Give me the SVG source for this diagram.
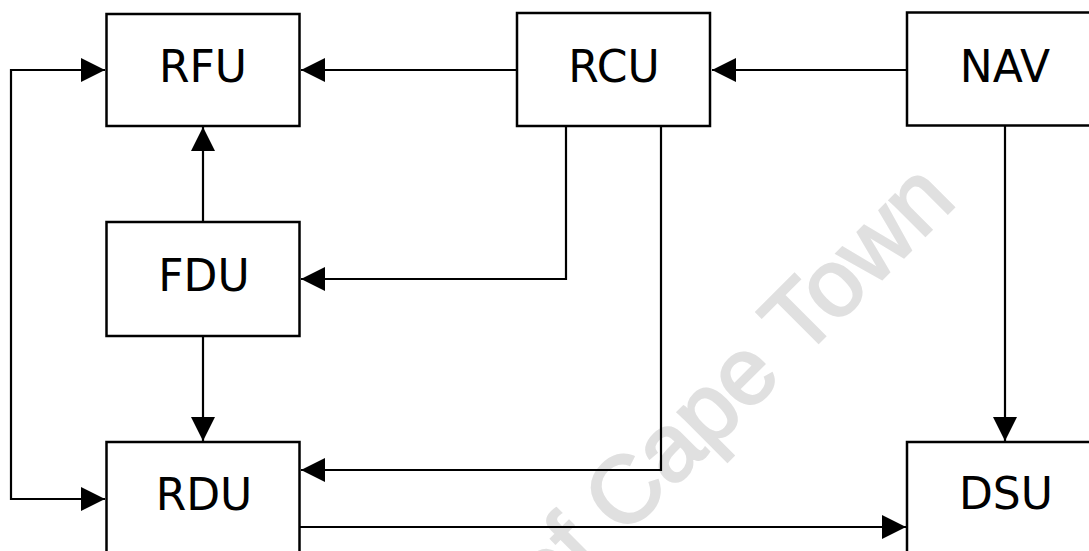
<svg xmlns="http://www.w3.org/2000/svg" width="1089" height="551" viewBox="0 0 1089 551">
  <style>
    .box { fill: #ffffff; stroke: #000000; stroke-width: 2.5; }
    .lbl { font-family: "DejaVu Sans", "Liberation Sans", sans-serif; font-size: 44px; fill: #000000; text-anchor: middle; }
    .conn { fill: none; stroke: #000000; stroke-width: 2.2; }
    .wm { font-family: "Liberation Sans", Arial, sans-serif; font-size: 95px; fill: #e0e0e0; stroke: #e0e0e0; stroke-width: 2.5; text-anchor: end; }
  </style>
  <defs>
    <marker id="arrow" markerUnits="userSpaceOnUse" markerWidth="24" markerHeight="24" refX="24" refY="12" orient="auto-start-reverse">
      <path d="M0,0 L24,12 L0,24 Z" fill="#000000"/>
    </marker>
  </defs>
  <rect width="1089" height="551" fill="#ffffff"/>
  <text class="wm" transform="translate(958,203) rotate(-45)">of Cape Town</text>

  <g id="connectors">
    <path class="conn" d="M105,70 L11,70 L11,499 L105,499" marker-start="url(#arrow)" marker-end="url(#arrow)"/>
    <path class="conn" d="M517,70 L301,70" marker-end="url(#arrow)"/>
    <path class="conn" d="M907,70 L712,70" marker-end="url(#arrow)"/>
    <path class="conn" d="M203,222 L203,127" marker-end="url(#arrow)"/>
    <path class="conn" d="M566,126 L566,279 L301,279" marker-end="url(#arrow)"/>
    <path class="conn" d="M661,126 L661,470 L301,470" marker-end="url(#arrow)"/>
    <path class="conn" d="M203,336 L203,441" marker-end="url(#arrow)"/>
    <path class="conn" d="M300,527 L906,527" marker-end="url(#arrow)"/>
    <path class="conn" d="M1005,125 L1005,441" marker-end="url(#arrow)"/>
  </g>

  <g id="RFU">
    <rect class="box" x="106.5" y="14" width="193" height="112"/>
    <text class="lbl" x="203" y="82">RFU</text>
  </g>
  <g id="RCU">
    <rect class="box" x="517" y="13" width="193" height="113"/>
    <text class="lbl" x="614" y="82">RCU</text>
  </g>
  <g id="NAV">
    <rect class="box" x="907" y="12.5" width="193" height="113"/>
    <text class="lbl" x="1005" y="82">NAV</text>
  </g>
  <g id="FDU">
    <rect class="box" x="106.5" y="222" width="193" height="114"/>
    <text class="lbl" x="204" y="291">FDU</text>
  </g>
  <g id="RDU">
    <rect class="box" x="106.5" y="442" width="193" height="112"/>
    <text class="lbl" x="204" y="510">RDU</text>
  </g>
  <g id="DSU">
    <rect class="box" x="907" y="442" width="193" height="112"/>
    <text class="lbl" x="1006" y="509">DSU</text>
  </g>
</svg>
